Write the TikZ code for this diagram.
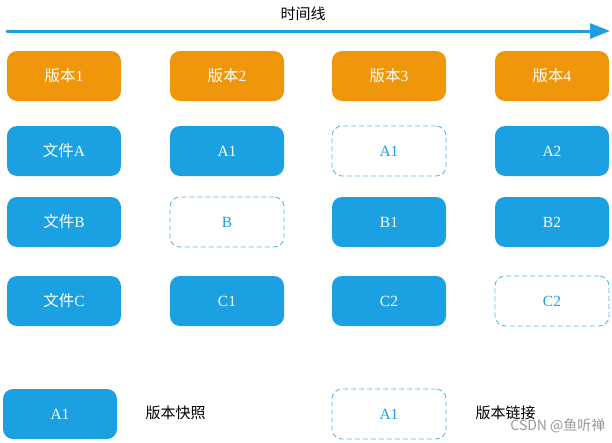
\documentclass[tikz,border=0pt]{standalone}
\usepackage{fontspec}
\setmainfont{Liberation Serif}
\newfontfamily\cjk{Noto Sans CJK SC}
\usetikzlibrary{arrows.meta}
\definecolor{vorange}{RGB}{240,150,10}
\definecolor{vblue}{RGB}{27,161,226}
\definecolor{vdash}{RGB}{90,185,230}
\begin{document}
\begin{tikzpicture}[x=1pt,y=-1pt,
  base/.style={rounded corners=10pt,minimum width=114pt,minimum height=50pt,inner sep=0pt,font=\fontsize{15.5}{17}\selectfont},
  verbox/.style={base,fill=vorange,text=white},
  snap/.style={base,fill=vblue,text=white},
  link/.style={base,draw=vdash,dash pattern=on 5pt off 3pt,line width=0.9pt,text=vblue,fill=white},
  lbl/.style={font=\cjk\fontsize{15}{17}\selectfont,text=black}]
\useasboundingbox (0,0) rectangle (612,442);
\fill[white] (0,0) rectangle (612,442);
% timeline
\coordinate (ts) at (7,31);
\coordinate (te) at (610,31);
\draw[vblue,line width=3pt,line cap=round,-{Triangle[length=20pt,width=15pt]}] (ts) -- (te);
\node[lbl] (title) at (303,14) {时间线};
% columns x centres: 64, 227, 389, 552
\node[verbox] (v1) at (64,76) {{\cjk 版本}1};
\node[verbox] (v2) at (227,76) {{\cjk 版本}2};
\node[verbox] (v3) at (389,76) {{\cjk 版本}3};
\node[verbox] (v4) at (552,76) {{\cjk 版本}4};
% row A
\node[snap] (a1) at (64,151) {{\cjk 文件}A};
\node[snap] (a2) at (227,151) {A1};
\node[link] (a3) at (389,151) {A1};
\node[snap] (a4) at (552,151) {A2};
% row B
\node[snap] (b1) at (64,222) {{\cjk 文件}B};
\node[link] (b2) at (227,222) {B};
\node[snap] (b3) at (389,222) {B1};
\node[snap] (b4) at (552,222) {B2};
% row C
\node[snap] (c1) at (64,301) {{\cjk 文件}C};
\node[snap] (c2) at (227,301) {C1};
\node[snap] (c3) at (389,301) {C2};
\node[link] (c4) at (552,301) {C2};
% legend
\node[snap] (ls) at (60,414) {A1};
\node[lbl,anchor=west] (lst) at (142,413) {版本快照};
\node[link] (ll) at (389,414) {A1};
\node[lbl,anchor=west] (llt) at (472,413) {版本链接};
% watermark
\node[font=\fontsize{14}{16}\selectfont\sffamily\cjk,text=black!40,anchor=east] (wm) at (609,426) {CSDN @鱼听禅};
\end{tikzpicture}
\end{document}
